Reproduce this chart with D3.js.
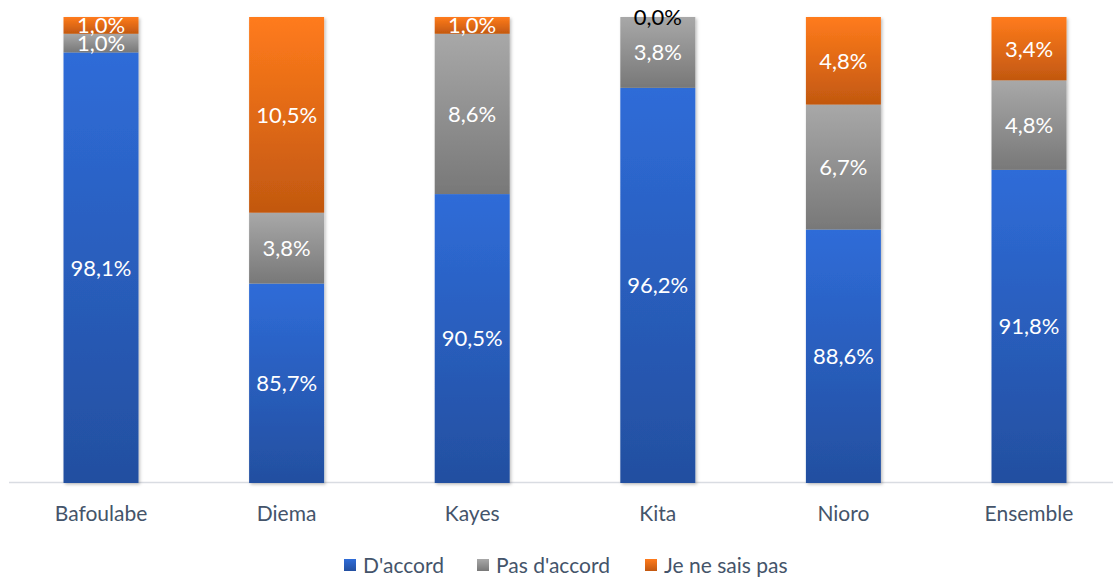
<!DOCTYPE html>
<html><head><meta charset="utf-8">
<script src="https://cdn.jsdelivr.net/npm/d3@7"></script>
<style>body{margin:0;background:#fff}svg{display:block}</style>
</head><body>
<svg id="chart" width="1113" height="579"></svg>
<script>
const categories = ["Bafoulabe","Diema","Kayes","Kita","Nioro","Ensemble"];
const seriesNames = ["D'accord","Pas d'accord","Je ne sais pas"];
const daccord = [98.1, 85.7, 90.5, 96.2, 88.6, 91.8];
const pasDaccord = [1.0, 3.8, 8.6, 3.8, 6.7, 4.8];
const jeNeSaisPas = [1.0, 10.5, 1.0, 0.0, 4.8, 3.4];
const yDomain = [75, 100];

const series = [daccord, pasDaccord, jeNeSaisPas];
const gradColors = [["#2F6CD8","#234FA0"],["#A8A8A8","#787878"],["#FF7B1C","#C25810"]];
const legendColors = [["#2F6CD8","#234FA0"],["#A8A8A8","#787878"],["#FF7B1C","#C25810"]];

const svg = d3.select("#chart");
const defs = svg.append("defs");
gradColors.forEach((c,i)=>{
  const g = defs.append("linearGradient").attr("id","g"+i).attr("x1",0).attr("y1",0).attr("x2",0).attr("y2",1);
  g.append("stop").attr("offset","0%").attr("stop-color",c[0]);
  g.append("stop").attr("offset","100%").attr("stop-color",c[1]);
});
const f = defs.append("filter").attr("id","sh").attr("x","-20%").attr("y","-20%").attr("width","140%").attr("height","140%");
f.append("feDropShadow").attr("dx",1.5).attr("dy",1.5).attr("stdDeviation",1.5).attr("flood-color","#000").attr("flood-opacity",0.25);

const x = d3.scaleBand().domain(categories).range([8.2, 1121.8]).paddingInner(0.596).paddingOuter(0.298);
const y = d3.scaleLinear().domain(yDomain).range([483, 17]).clamp(true);

// axis line
svg.append("line").attr("x1",9).attr("x2",1113).attr("y1",482.5).attr("y2",482.5)
  .attr("stroke","#D9DCE2").attr("stroke-width",1.5);

// stack
const stackData = categories.map((c,i)=>{
  let acc = 0; const segs = [];
  series.forEach((s,k)=>{ segs.push({cat:c,k,v:s[i],y0:acc,y1:acc+s[i]}); acc += s[i]; });
  return segs;
});
const barG = svg.append("g").attr("filter","url(#sh)");
stackData.forEach(segs=>{
  segs.forEach(s=>{
    const top = y(s.y1), bot = y(s.y0);
    if (bot - top > 0.1) {
      barG.append("rect").attr("x",x(s.cat)).attr("width",x.bandwidth())
        .attr("y",top).attr("height",bot-top).attr("fill","url(#g"+s.k+")");
    }
  });
});
const lab = svg.append("g").attr("font-family","Lato, 'Open Sans', sans-serif").attr("font-size",22).attr("text-anchor","middle");
stackData.forEach(segs=>{
  segs.forEach(s=>{
    const top = y(s.y1), bot = y(s.y0);
    lab.append("text").attr("x",x(s.cat)+x.bandwidth()/2).attr("y",(top+bot)/2)
      .attr("dy","0.36em").attr("fill", s.v===0 ? "#000" : "#fff")
      .text(d3.format(".1f")(s.v).replace(".",",")+"%");
  });
});

// category labels
svg.append("g").attr("font-family","Lato, 'Open Sans', sans-serif").attr("font-size",21).attr("fill","#44546A").attr("text-anchor","middle")
  .selectAll("text").data(categories).join("text")
  .attr("x",d=>x(d)+x.bandwidth()/2).attr("y",521).text(d=>d);

// legend
const legX = [344, 477, 645];
const leg = svg.append("g").attr("font-family","Lato, 'Open Sans', sans-serif").attr("font-size",21).attr("fill","#44546A");
seriesNames.forEach((n,i)=>{
  leg.append("rect").attr("x",legX[i]).attr("y",559).attr("width",12).attr("height",12).attr("fill","url(#g"+i+")");
  leg.append("text").attr("x",legX[i]+19).attr("y",573).text(n);
});
</script>
</body></html>
